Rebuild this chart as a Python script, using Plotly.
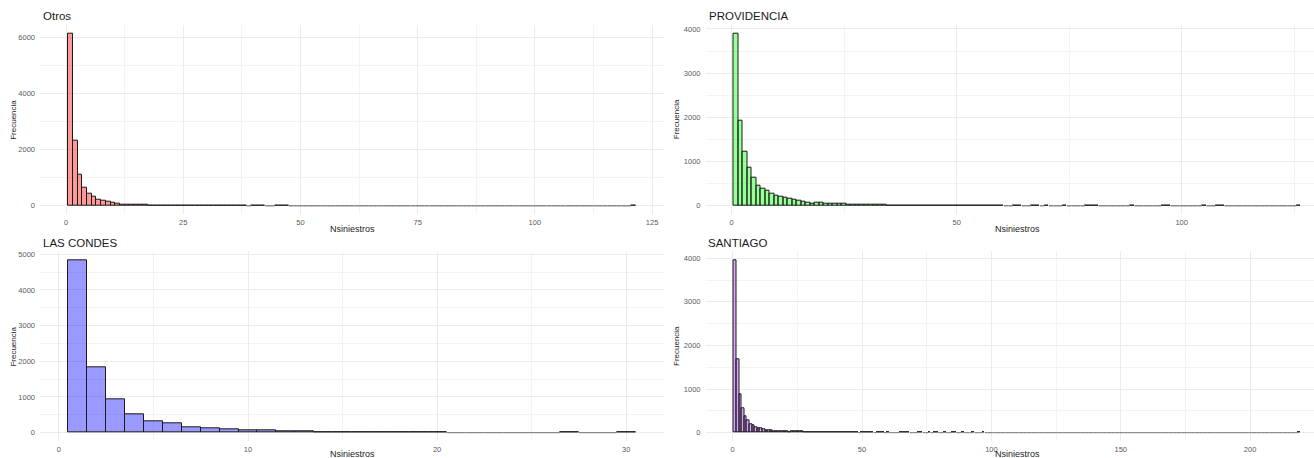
import numpy as np
import plotly.graph_objects as go

# ---------------- data (bin centre -> frequency, width-1 bins) ----------------
otros_bins = list(range(1, 39)) + [40, 41, 42, 45, 46, 47, 121]
otros_counts = [6143, 2321, 1119, 655, 417, 305, 226, 170, 131, 100,
                75, 52, 40, 32, 26, 21, 18, 15, 10, 9,
                8, 7, 6, 5, 5, 4, 4, 3, 3, 2,
                2, 2, 2, 1, 1, 2, 1, 1,
                1, 1, 1, 1, 1, 1, 1]

prov_bins = list(range(1, 61)) + [63, 64, 67, 68, 70, 74, 79, 80, 81, 89, 96, 97, 105, 108, 109, 126]
prov_counts = [3902, 1932, 1225, 870, 640, 455, 395, 328, 280, 225,
               195, 172, 150, 128, 105, 92, 78, 52, 66, 60,
               56, 50, 46, 40, 36, 33, 30, 28, 25, 22,
               20, 18, 16, 30, 9, 8, 7, 6, 6, 5,
               5, 4, 4, 3, 3, 3, 2, 2, 2, 2,
               1, 1, 2, 1, 1, 10, 1, 2, 1, 1,
               1, 1, 1, 1, 1, 1, 1, 1, 1, 1, 1, 1, 1, 1, 1, 1]

lc_bins = list(range(1, 21)) + [27, 30]
lc_counts = [4841, 1832, 944, 514, 327, 262, 159, 135, 93, 75,
             65, 45, 32, 22, 15, 10, 7, 5, 3, 2,
             1, 1]

stgo_bins = (list(range(1, 49)) + [50, 51, 52, 53, 54, 56, 57, 58, 60,
             65, 66, 67, 68, 72, 73, 76, 78, 79, 82, 85, 86, 89, 93, 97, 219])
stgo_counts = [3960, 1690, 879, 558, 382, 290, 199, 168, 130, 107,
               92, 76, 61, 53, 46, 38, 32, 30, 27, 23,
               20, 6, 25, 24, 23, 22, 21, 19, 8, 7,
               6, 6, 5, 5, 4, 4, 3, 3, 3, 2,
               2, 6, 2, 2, 1, 1, 2, 1,
               1, 1, 1, 1, 1, 1, 1, 1, 1,
               1, 1, 1, 1, 1, 1, 1, 1, 1, 1, 1, 1, 1, 1, 1, 1]

titles = ["Otros", "PROVIDENCIA", "LAS CONDES", "SANTIAGO"]
x_label = "Nsiniestros"
y_label = "Frecuencia"

# ---------------- layout / style config ----------------
W, H = 1314, 458
FONT = "Liberation Sans, Arial, sans-serif"
GRID = "#EBEBEB"
MINOR = "#F3F3F3"
TICKC = "#5a5a5a"

panels = [
    dict(bins=otros_bins, counts=otros_counts, fill="rgba(255,0,0,0.4)",
         px=(40, 664), py=(24.7, 214.3), xrange=(-5.55, 127.55),
         xdt=25, ydt=2000),
    dict(bins=prov_bins, counts=prov_counts, fill="rgba(0,255,0,0.4)",
         px=(705.5, 1314), py=(24.7, 214.3), xrange=(-5.82, 129.4),
         xdt=50, ydt=1000),
    dict(bins=lc_bins, counts=lc_counts, fill="rgba(0,0,255,0.4)",
         px=(40, 664), py=(251.3, 441.3), xrange=(-1.0, 32.0),
         xdt=10, ydt=1000),
    dict(bins=stgo_bins, counts=stgo_counts, fill="rgba(160,32,240,0.4)",
         px=(705.5, 1314), py=(251.3, 441.3), xrange=(-10.5, 224.7),
         xdt=50, ydt=1000),
]
# centre of the full (uncropped) panel for x-axis title
xtitle_center = [352, 1017, 352, 1017]
xtitle_y = [229, 229, 454, 454]
ytitle_x = [13.3, 676.7, 13.3, 676.7]
title_x = [41, 707, 41, 706]

fig = go.Figure()
layout = dict(width=W, height=H, margin=dict(l=0, r=0, t=0, b=0),
              paper_bgcolor="white", plot_bgcolor="white",
              showlegend=False, bargap=0, annotations=[])

for i, p in enumerate(panels):
    k = "" if i == 0 else str(i + 1)
    bins = np.array(p["bins"])
    counts = np.array(p["counts"], dtype=float)
    nmax = bins.max()
    centers = np.arange(1, nmax + 1)
    vals = np.zeros(nmax)
    vals[bins - 1] = counts

    # zero-count bins drawn as a grey baseline
    zx, zy = [], []
    for c, v in zip(centers, vals):
        if v == 0:
            zx += [c - 0.5, c + 0.5, None]
            zy += [0, 0, None]
    fig.add_trace(go.Scatter(x=zx, y=zy, mode="lines",
                             line=dict(color="#8a8a8a", width=1.4),
                             hoverinfo="skip", xaxis="x" + k, yaxis="y" + k))
    nz = vals > 0
    fig.add_trace(go.Bar(x=centers[nz], y=vals[nz], width=1,
                         marker=dict(color=p["fill"],
                                     line=dict(color="#1a1a1a", width=1)),
                         xaxis="x" + k, yaxis="y" + k))

    ymax = vals.max()
    x0, x1 = p["px"]
    y0, y1 = p["py"]
    layout["xaxis" + k] = dict(
        domain=[x0 / W, min(x1 / W, 1.0)], anchor="y" + k,
        range=list(p["xrange"]), dtick=p["xdt"], tick0=0,
        showgrid=True, gridcolor=GRID, gridwidth=1, zeroline=False,
        showline=False, ticks="", ticklabelstandoff=2,
        minor=dict(dtick=p["xdt"] / 2, tick0=0, showgrid=True,
                   gridcolor=MINOR, gridwidth=0.8),
        tickfont=dict(family=FONT, size=7.5, color=TICKC))
    layout["yaxis" + k] = dict(
        domain=[1 - y1 / H, 1 - y0 / H], anchor="x" + k,
        range=[-0.05 * ymax, 1.05 * ymax], dtick=p["ydt"], tick0=0,
        showgrid=True, gridcolor=GRID, gridwidth=1, zeroline=False,
        showline=False, ticks="", ticklabelstandoff=4,
        minor=dict(dtick=p["ydt"] / 2, tick0=0, showgrid=True,
                   gridcolor=MINOR, gridwidth=0.8),
        tickfont=dict(family=FONT, size=7.5, color=TICKC))

    # panel title
    layout["annotations"].append(dict(
        text=titles[i], xref="paper", yref="paper",
        x=title_x[i] / W, y=1 - (y0 - 8.5) / H, xanchor="left", yanchor="middle",
        showarrow=False, font=dict(family=FONT, size=11.5, color="#1a1a1a")))
    # x axis title
    layout["annotations"].append(dict(
        text=x_label, xref="paper", yref="paper",
        x=xtitle_center[i] / W, y=1 - xtitle_y[i] / H,
        xanchor="center", yanchor="middle", showarrow=False,
        font=dict(family=FONT, size=9, color="#1a1a1a")))
    # y axis title
    layout["annotations"].append(dict(
        text=y_label, xref="paper", yref="paper", textangle=-90,
        x=ytitle_x[i] / W, y=1 - ((y0 + y1) / 2) / H,
        xanchor="center", yanchor="middle", showarrow=False,
        font=dict(family=FONT, size=8, color="#1a1a1a")))

fig.update_layout(**layout)
fig.write_html("out.html")
